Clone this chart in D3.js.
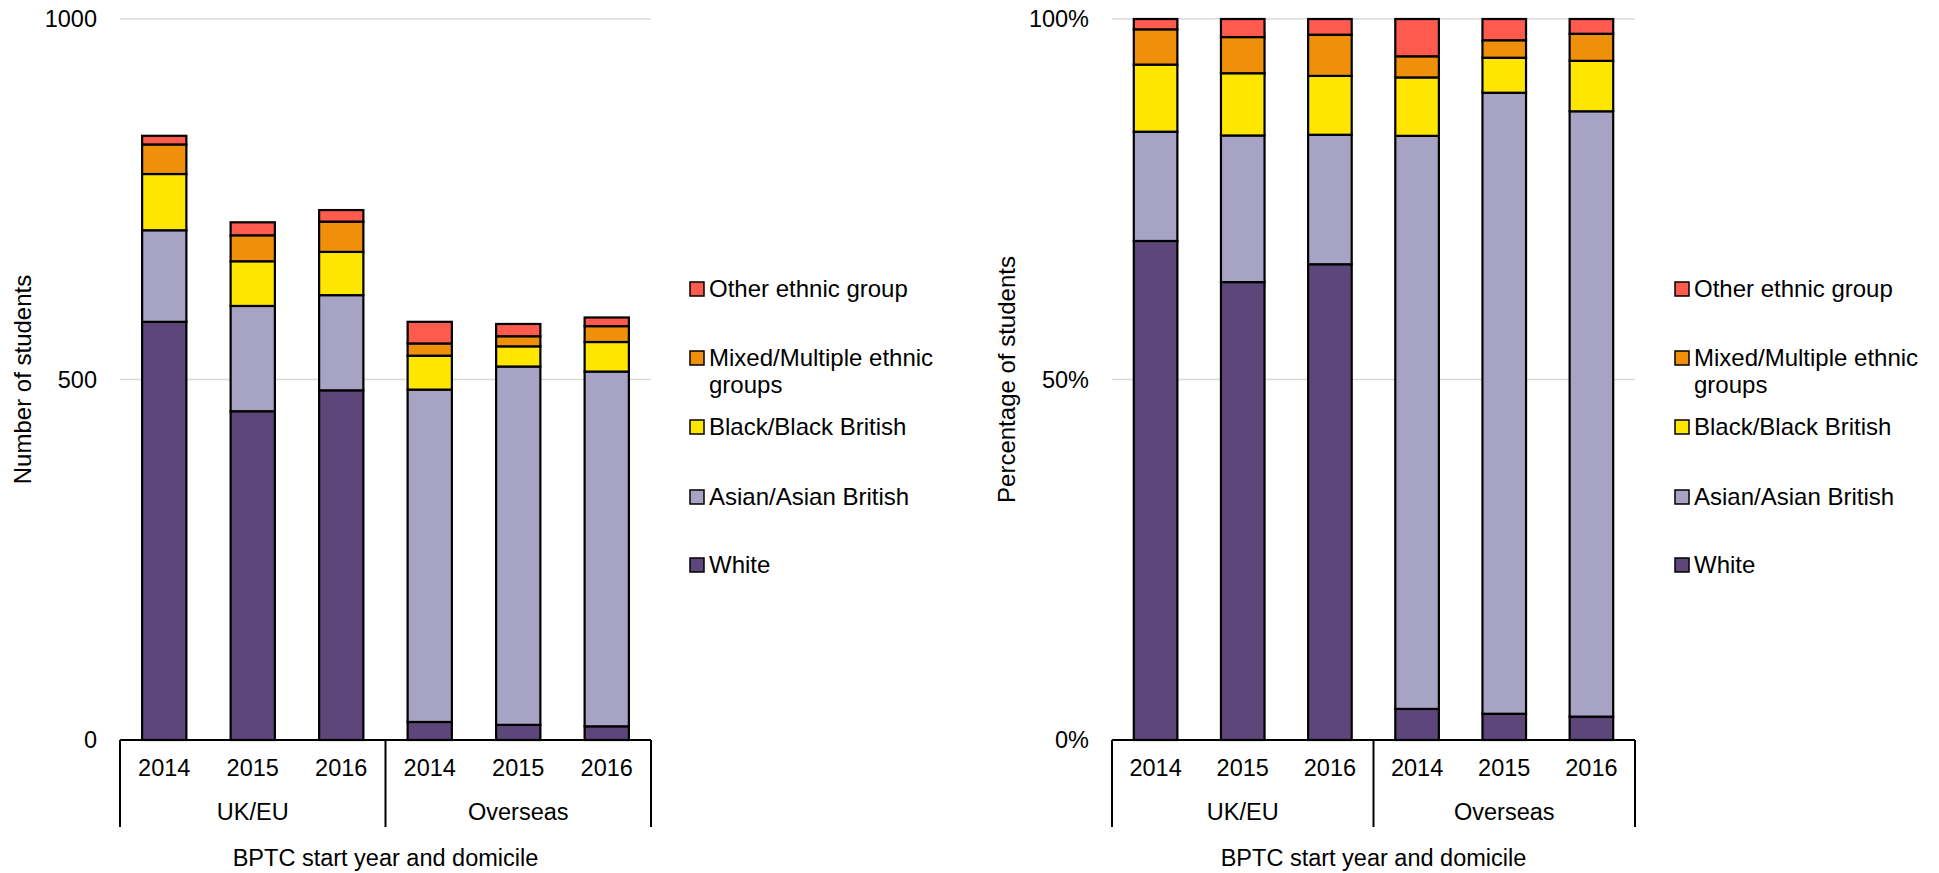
<!DOCTYPE html>
<html>
<head>
<meta charset="utf-8">
<script src="https://cdn.jsdelivr.net/npm/d3@7/dist/d3.min.js"></script>
<style>
  html, body { margin: 0; padding: 0; background: #ffffff; }
  svg { display: block; }
  text { font-family: "Liberation Sans", Arial, sans-serif; fill: #000; }
</style>
</head>
<body>
<svg id="chart" width="1939" height="873"></svg>
<script>
// ---- data ----
const years = ["2014", "2015", "2016", "2014", "2015", "2016"];
const domiciles = ["UK/EU", "Overseas"];
const seriesNames = ["White", "Asian/Asian British", "Black/Black British", "Mixed/Multiple ethnic groups", "Other ethnic group"];
const white = [580, 456, 485, 25, 21, 19];
const asian = [127, 146, 132, 461, 497, 492];
const black = [78, 62, 60, 47, 28, 41];
const mixed = [41, 36, 42, 17, 14, 22];
const other = [12, 18, 16, 30, 17, 12];
const countTicks = [0, 500, 1000];
const pctTicks = [0, 0.5, 1];
const colors = ["#5c467a", "#a7a3c5", "#ffe600", "#f0900a", "#ff5a4e"];

const seriesValues = [white, asian, black, mixed, other];
const rows = years.map((y, i) => {
  const r = { idx: i };
  seriesNames.forEach((s, k) => { r[s] = seriesValues[k][i]; });
  return r;
});

const svg = d3.select("#chart");
const FS = 23.5;
const LFS = 24;

function drawChart(cfg) {
  const g = svg.append("g");
  const x = d3.scaleBand().domain(d3.range(years.length))
    .range([cfg.x0, cfg.x1]).paddingInner(0.5).paddingOuter(0.25);
  const y = d3.scaleLinear().domain(cfg.domain).range([cfg.yBase, cfg.yTop]);

  // gridlines
  g.append("g").selectAll("line").data(cfg.ticks.filter(t => t !== 0)).join("line")
    .attr("x1", cfg.x0).attr("x2", cfg.x1)
    .attr("y1", d => y(d)).attr("y2", d => y(d))
    .attr("stroke", "#d9d9d9").attr("stroke-width", 1.5);

  // y tick labels
  const yAxis = d3.axisLeft(y).tickValues(cfg.ticks).tickSize(0).tickPadding(23).tickFormat(cfg.fmt);
  const ya = g.append("g").attr("transform", `translate(${cfg.x0},0)`).call(yAxis);
  ya.select(".domain").remove();
  ya.selectAll("text").attr("font-size", FS).attr("font-family", "Liberation Sans, Arial, sans-serif").attr("fill", "#000");

  // stacked bars
  const stack = d3.stack().keys(seriesNames).offset(cfg.offset);
  const layers = stack(rows);
  const lg = g.append("g").selectAll("g").data(layers).join("g")
    .attr("fill", (d, i) => colors[i]);
  lg.selectAll("rect").data(d => d).join("rect")
    .attr("x", d => x(d.data.idx))
    .attr("width", x.bandwidth())
    .attr("y", d => y(d[1]))
    .attr("height", d => y(d[0]) - y(d[1]))
    .attr("stroke", "#000").attr("stroke-width", 2.2);

  // baseline
  g.append("line").attr("x1", cfg.x0).attr("x2", cfg.x1)
    .attr("y1", cfg.yBase).attr("y2", cfg.yBase)
    .attr("stroke", "#000").attr("stroke-width", 2);

  // year labels
  const xAxis = d3.axisBottom(x).tickSize(0).tickPadding(0).tickFormat(i => years[i]);
  const xa = g.append("g").attr("transform", `translate(0,${cfg.yBase})`).call(xAxis);
  xa.select(".domain").remove();
  xa.selectAll("text").attr("font-size", FS).attr("dy", null).attr("y", 36)
    .attr("font-family", "Liberation Sans, Arial, sans-serif").attr("fill", "#000");

  // group separators
  const per = years.length / domiciles.length;
  const step = x.step();
  const seps = d3.range(domiciles.length + 1).map(k => cfg.x0 + k * per * step);
  g.append("g").selectAll("line").data(seps).join("line")
    .attr("x1", d => d).attr("x2", d => d)
    .attr("y1", cfg.yBase).attr("y2", cfg.yBase + 87)
    .attr("stroke", "#000").attr("stroke-width", 2);
  g.append("g").selectAll("text").data(domiciles).join("text")
    .attr("x", (d, k) => cfg.x0 + (k + 0.5) * per * step)
    .attr("y", cfg.yBase + 80)
    .attr("text-anchor", "middle").attr("font-size", FS).text(d => d);

  // axis titles
  g.append("text").attr("x", (cfg.x0 + cfg.x1) / 2).attr("y", cfg.yBase + 126)
    .attr("text-anchor", "middle").attr("font-size", FS).text("BPTC start year and domicile");
  g.append("text")
    .attr("transform", `translate(${cfg.titleX},${(cfg.yBase + cfg.yTop) / 2}) rotate(-90)`)
    .attr("text-anchor", "middle").attr("font-size", LFS).text(cfg.yTitle);

  // legend
  const order = seriesNames.map((s, i) => i).reverse();
  const lyPos = [289, 358, 427, 497, 565];
  const leg = g.append("g").selectAll("g").data(order).join("g")
    .attr("transform", (d, j) => `translate(${cfg.legX},${lyPos[j]})`);
  leg.append("rect").attr("x", 0).attr("y", -7).attr("width", 14).attr("height", 14)
    .attr("fill", d => colors[d]).attr("stroke", "#000").attr("stroke-width", 1.5);
  leg.append("text").attr("x", 19).attr("y", 8).attr("font-size", LFS)
    .each(function (d) {
      const name = seriesNames[d];
      const t = d3.select(this);
      if (name === "Mixed/Multiple ethnic groups") {
        t.append("tspan").attr("x", 19).attr("dy", 0).text("Mixed/Multiple ethnic");
        t.append("tspan").attr("x", 19).attr("dy", 27).text("groups");
      } else {
        t.text(name);
      }
    });
}

drawChart({
  x0: 120, x1: 651, yBase: 740, yTop: 19,
  domain: [0, 1000], ticks: countTicks, fmt: d3.format("d"),
  offset: d3.stackOffsetNone, yTitle: "Number of students", titleX: 31, legX: 690
});
drawChart({
  x0: 1112, x1: 1635, yBase: 740, yTop: 19,
  domain: [0, 1], ticks: pctTicks, fmt: d3.format(".0%"),
  offset: d3.stackOffsetExpand, yTitle: "Percentage of students", titleX: 1015, legX: 1675
});
</script>
</body>
</html>
